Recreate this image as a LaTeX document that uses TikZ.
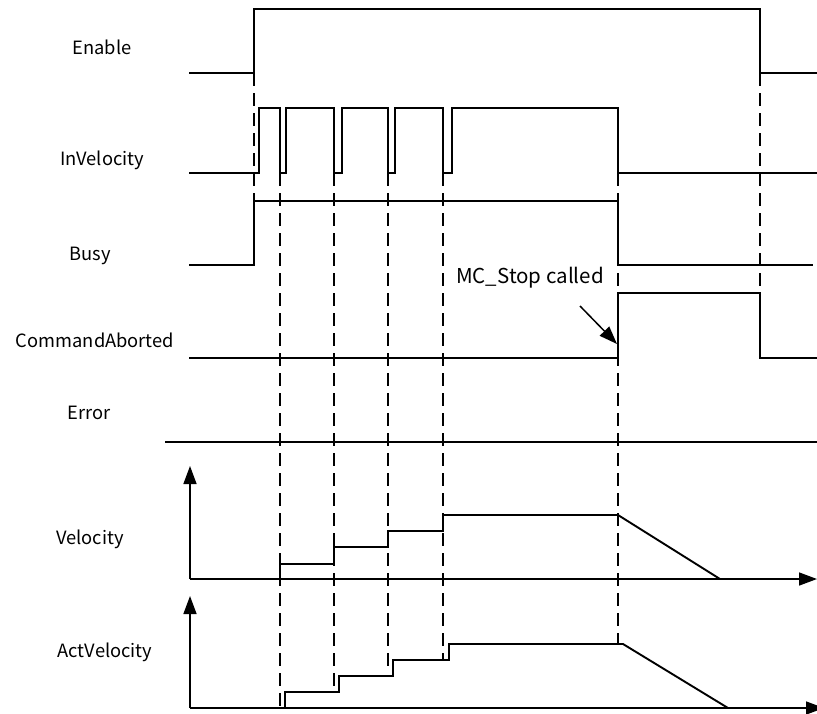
\documentclass[tikz,border=0pt]{standalone}
\usepackage{fontspec}
\setmainfont{Noto Sans CJK SC}
\usetikzlibrary{arrows.meta}
\begin{document}
\begin{tikzpicture}[x=1pt,y=-1pt,
  sig/.style={line width=1.9pt,line join=miter},
  tip/.style={-{Triangle[length=18pt,width=13pt]}},
  axis/.style={line width=1.5pt,tip},
  guide/.style={line width=1.5pt,dash pattern=on 13pt off 7pt},
  lab/.style={font=\fontsize{18.3}{21}\selectfont,inner sep=0pt,anchor=center}]
\useasboundingbox (0,0) rectangle (817,713);
% guides
\draw[guide] (254,73) -- (254,201);
\draw[guide] (760,73) -- (760,293);
\draw[guide] (280,173) -- (280,708);
\draw[guide] (334,173) -- (334,692);
\draw[guide] (388,173) -- (388,668);
\draw[guide] (443,173) -- (443,660);
\draw[guide] (618,173) -- (618,643);
% labels
\node[lab] (lEnable) at (102,47) {Enable};
\node[lab] (lInV) at (102,160) {InVelocity};
\node[lab] (lBusy) at (90,256) {Busy};
\node[lab] (lCA) at (95,340) {CommandAborted};
\node[lab] (lErr) at (89,413) {Error};
\node[lab] (lVel) at (90,539) {Velocity};
\node[lab] (lAct) at (105,652) {ActVelocity};
% Enable
\draw[sig] (189,73) -- (254,73) -- (254,9) -- (760,9) -- (760,73) -- (817,73);
% InVelocity
\draw[sig] (189,173) -- (259,173) -- (259,108) -- (280,108) -- (280,173) -- (286,173) -- (286,108)
  -- (334,108) -- (334,173) -- (342,173) -- (342,108) -- (388,108) -- (388,173) -- (395,173) -- (395,108)
  -- (443,108) -- (443,173) -- (452,173) -- (452,108) -- (618,108) -- (618,173) -- (817,173);
% Busy
\draw[sig] (189,265) -- (254,265) -- (254,201) -- (618,201) -- (618,265) -- (813,265);
% CommandAborted
\draw[sig] (189,358) -- (618,358) -- (618,293) -- (760,293) -- (760,358) -- (817,358);
% Error
\draw[sig] (165,442) -- (817,442);
% MC_Stop
\node[lab,font=\fontsize{20.5}{24}\selectfont] (lStop) at (530,278) {MC\_Stop called};
\coordinate (stopA) at (580,306);
\coordinate (stopB) at (617,344);
\draw[line width=1.5pt,tip] (stopA) -- (stopB);
% Velocity axes
\coordinate (v0) at (190,579);
\coordinate (vy) at (190,466);
\coordinate (vx) at (817,579);
\draw[axis] (v0) -- (vy);
\draw[axis] (v0) -- (vx);
\draw[sig] (190,579) -- (280,579) -- (280,564) -- (334,564) -- (334,547) -- (388,547) -- (388,531)
  -- (443,531) -- (443,515) -- (618,515) -- (720,579);
% ActVelocity axes
\coordinate (a0) at (190,708);
\coordinate (ay) at (190,596);
\coordinate (ax) at (824,708);
\draw[axis] (a0) -- (ay);
\draw[axis] (a0) -- (ax);
\draw[sig] (190,708) -- (285,708) -- (285,692) -- (339,692) -- (339,676) -- (393,676) -- (393,660)
  -- (449,660) -- (449,644) -- (623,644) -- (728,708);
\end{tikzpicture}
\end{document}
